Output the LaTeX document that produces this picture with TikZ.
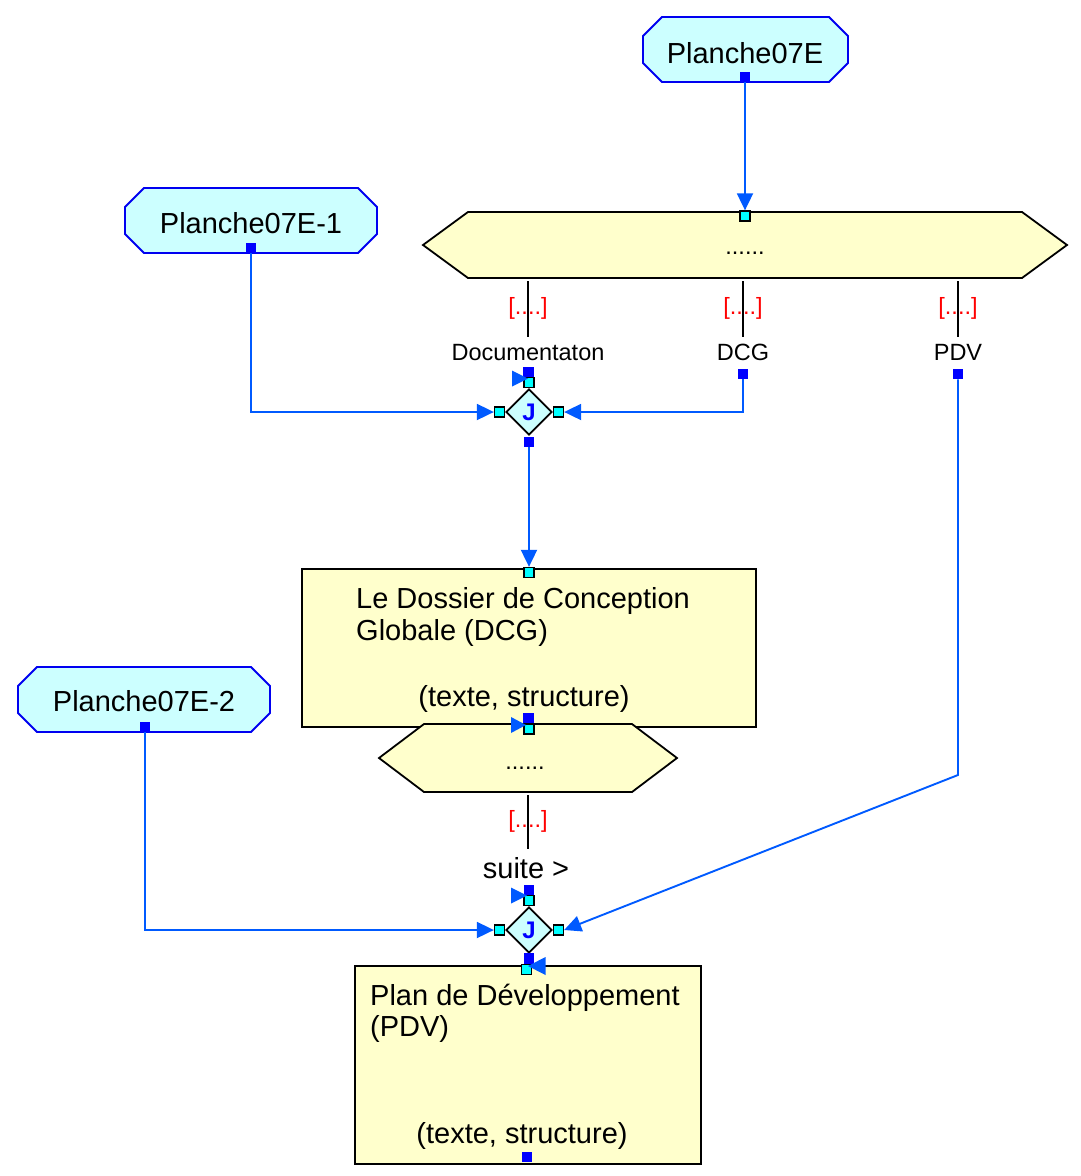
\documentclass[tikz,border=0pt]{standalone}
\usepackage{fontspec}
\setmainfont{Liberation Sans}
\usetikzlibrary{arrows.meta,shapes.geometric,calc}
\definecolor{octfill}{RGB}{204,255,255}
\definecolor{octline}{RGB}{0,0,240}
\definecolor{conncol}{RGB}{0,90,255}
\definecolor{boxfill}{RGB}{255,255,204}
\definecolor{portblue}{RGB}{0,0,255}
\definecolor{portcyan}{RGB}{0,255,255}
\definecolor{lblred}{RGB}{255,0,0}
\newcommand\myoct[5]{% x1,y1,x2,y2,cut
  \path[octa] ({#1+#5},#2) -- ({#3-#5},#2) -- (#3,{#2+#5}) -- (#3,{#4-#5}) -- ({#3-#5},#4) -- ({#1+#5},#4) -- (#1,{#4-#5}) -- (#1,{#2+#5}) -- cycle;}
\newcommand\myhex[5]{% x1,y1,x2,y2,cut
  \path[boxy] ({#1+#5},#2) -- ({#3-#5},#2) -- (#3,{(#2+#4)/2}) -- ({#3-#5},#4) -- ({#1+#5},#4) -- (#1,{(#2+#4)/2}) -- cycle;}
\begin{document}
\begin{tikzpicture}[x=1pt,y=-1pt,
  octa/.style={draw=octline, fill=octfill, line width=1.8pt},
  boxy/.style={draw=black, fill=boxfill, line width=1.8pt},
  conn/.style={draw=conncol, line width=1.9pt, -{Triangle[length=17pt,width=16pt]}},
  tick/.style={draw=black, line width=1.8pt},
  bport/.style={rectangle, fill=portblue, minimum size=10.5pt, inner sep=0pt},
  cport/.style={rectangle, fill=portcyan, draw=black, line width=1.3pt, minimum size=10pt, inner sep=0pt},
  big/.style={font=\fontsize{29}{34}\selectfont, inner sep=0pt, anchor=base},
  bigl/.style={big, anchor=base west},
  small/.style={font=\fontsize{23.5}{27}\selectfont, inner sep=0pt, anchor=base},
  red/.style={small, text=lblred},
  jdiam/.style={diamond, aspect=1, draw=black, fill=octfill, line width=1.7pt, minimum width=46pt, minimum height=46pt, inner sep=0pt, text=portblue, font=\fontsize{24}{26}\selectfont\bfseries},
  tri/.style={fill=conncol}]
\useasboundingbox (0,0) rectangle (1080,1176);

% ---- shapes ----
\myoct{643}{17}{848}{82}{19}
\node[big] (t7E) at (745,63) {Planche07E};
\myoct{125}{188}{377}{253}{19}
\node[big] (t7E1) at (251,233) {Planche07E-1};
\myoct{18}{667}{270}{732}{19}
\node[big] (t7E2) at (144,711) {Planche07E-2};

\myhex{423}{212}{1067}{278}{45}
\node[small] (hx1) at (745,254) {......};

\node[boxy, rectangle, minimum width=454pt, minimum height=158pt, anchor=north west, inner sep=0pt] (dcgbox) at (301,568) {};
\node[bigl] (dcg1) at (356,608) {Le Dossier de Conception};
\node[bigl] (dcg2) at (356,640) {Globale (DCG)};
\node[big] (dcg3) at (524,706) {(texte, structure)};

\myhex{379}{724}{677}{792}{45}
\node[small] (hx2) at (525,769) {......};

\node[boxy, rectangle, minimum width=346pt, minimum height=198pt, anchor=north west, inner sep=0pt] (pdvbox) at (354,965) {};
\node[bigl] (pdv1) at (370,1005) {Plan de Développement};
\node[bigl] (pdv2) at (370,1036) {(PDV)};
\node[big] (pdv3) at (522,1143) {(texte, structure)};

\node[jdiam] (j1) at (529,412) {J};
\node[jdiam] (j2) at (529,930) {J};

% ---- labels on branch ticks ----
\node[red] (r1) at (528,314) {[....]};
\node[red] (r2) at (743,314) {[....]};
\node[red] (r3) at (958,314) {[....]};
\node[red] (r4) at (528,827) {[....]};
\node[small] (lDoc) at (528,360) {Documentaton};
\node[small] (lDcg) at (743,360) {DCG};
\node[small] (lPdv) at (958,360) {PDV};
\node[big] (lSuite) at (526,878) {suite >};

\coordinate (a1) at (528,281); \coordinate (b1) at (528,337);
\coordinate (a2) at (743,281); \coordinate (b2) at (743,337);
\coordinate (a3) at (958,281); \coordinate (b3) at (958,337);
\coordinate (a4) at (528,795); \coordinate (b4) at (528,849);
\draw[tick] (a1) -- (b1);
\draw[tick] (a2) -- (b2);
\draw[tick] (a3) -- (b3);
\draw[tick] (a4) -- (b4);

% ---- ports ----
\node[bport] (oE) at (745,77) {};
\node[cport] (hexT) at (745,216) {};
\node[bport] (o1) at (251,248) {};
\node[bport] (o2) at (145,727) {};
\node[bport] (docP) at (528.5,372) {};
\node[bport] (dcgP) at (743,374) {};
\node[bport] (pdvP) at (958,374) {};
\node[cport] (j1t) at (529,382.5) {};
\node[cport] (j1l) at (499.5,412) {};
\node[cport] (j1r) at (558.5,412) {};
\node[bport] (j1b) at (529,442) {};
\node[cport] (dcgT) at (529,572.5) {};
\node[bport] (dcgB) at (528.5,718.5) {};
\node[cport] (hex2T) at (529,729) {};
\node[bport] (suiteP) at (529,890) {};
\node[cport] (j2t) at (529,900.5) {};
\node[cport] (j2l) at (499.5,930) {};
\node[cport] (j2r) at (558.5,930) {};
\node[bport] (j2b) at (529,958.5) {};
\node[cport] (pdvT) at (526.5,969.5) {};
\node[bport] (pdvB) at (527,1157) {};

% ---- connectors ----
\coordinate (bend) at (958,775);
\draw[conn] (oE.south) -- (hexT.north);
\draw[conn] (o1.south) |- (j1l.west);
\draw[conn] (dcgP.south) |- (j1r.east);
\draw[conn] (j1b.south) -- (dcgT.north);
\draw[conn] (o2.south) |- (j2l.west);
\draw[conn] (pdvP.south) -- (bend) -- (j2r.east);

% degenerate short arrows (heads only)
\fill[tri] ($(j1t)+(-1,-4)$) -- ($(j1t)+(-17,-12)$) -- ($(j1t)+(-17,4)$) -- cycle;
\fill[tri] ($(hex2T)+(-3,-4)$) -- ($(hex2T)+(-18,-12)$) -- ($(hex2T)+(-18,4)$) -- cycle;
\fill[tri] ($(j2t)+(-2,-5)$) -- ($(j2t)+(-18,-13)$) -- ($(j2t)+(-18,3)$) -- cycle;
\fill[tri] ($(pdvT)+(1.5,-3.5)$) -- ($(pdvT)+(19,-12.5)$) -- ($(pdvT)+(19,5.5)$) -- cycle;
\end{tikzpicture}
\end{document}
